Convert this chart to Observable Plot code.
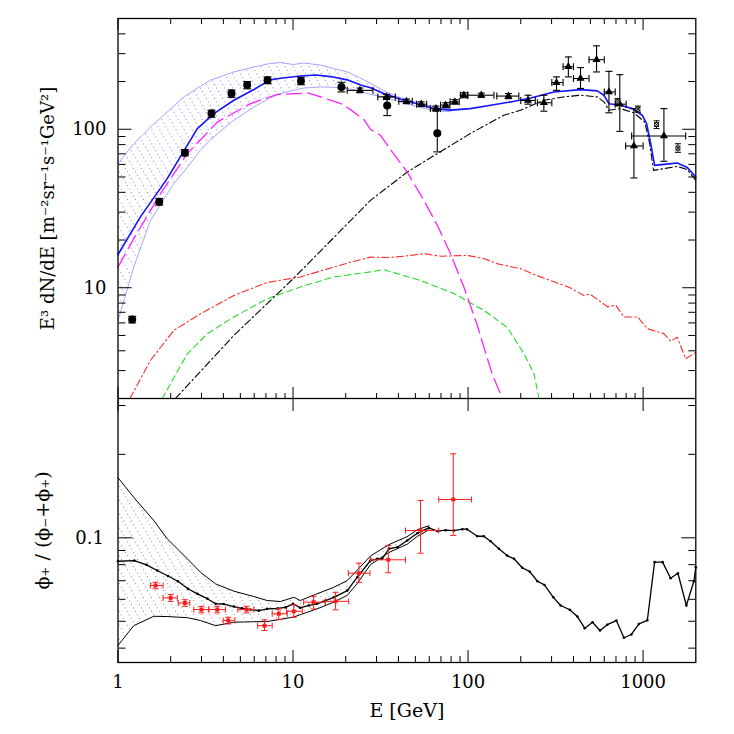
<!DOCTYPE html>
<html>
<head>
<meta charset="utf-8">
<script src="https://cdn.jsdelivr.net/npm/d3@7"></script>
<script src="https://cdn.jsdelivr.net/npm/@observablehq/plot@0.6"></script>
<style>
  body { margin: 0; background: #fff; }
  #c svg { display: block; }
</style>
</head>
<body>
<div id="c"></div>
<script>
// ---------- tick values ----------
const xMajor = [1, 10, 100, 1000];
const xMinor = [2,3,4,5,6,7,8,9,20,30,40,50,60,70,80,90,200,300,400,500,600,700,800,900];
const yTopMajor = [10, 100];
const yTopMinor = [3,4,5,6,7,8,9,20,30,40,50,60,70,80,90,200,300,400];
const yBotMajor = [0.1];
const yBotMinor = [0.04,0.05,0.06,0.07,0.08,0.09,0.2,0.3];

// ---------- top panel: model curves ----------
const totE = [1,1.34,1.91,2.84,3.53,4.59,5.97,7.4,8.5,11,13.5,16.4,20.4,24.3,27.7,33,41.7,53.5,63.7,79.4,103,134.5,175,228,309,439,547,597,638,743,867,989,1047,1105,1163,1400,1567,1789,2000];
const totV = [16.2,27.9,48.8,101,125.6,152.5,178,205,210,217,220,215,205,190,183,168,154,143,135,132,135,141.8,148.8,157.6,172,178,174.6,164,145,141.7,135,122.6,108.6,81,59.2,60.5,61.3,57.3,50];

const bandE  = [1,1.23,1.53,2.08,2.38,2.96,3.38,4.59,5.97,7.4,8.5,10,11.5,14.4,17,20.4,24,27.7,33,40,50,63,80];
const bandHi = [60.7,81,103,140,160,187,204,230,247,260,264,256,262,254,242,230,212,195,175,160,149,139,134];
const bandLo = [6.2,13.5,26.5,45.4,54,73.7,86,114,138,158,168,176,182,185,184,181,174,166,160,150,140,131,129];

const magE = [1,1.23,1.75,2.49,3.69,5.71,8.12,12.3,14.4,18.8,21.3,25.4,27.7,31.6,36.9,44.9,55.9,66.7,79.4,94.6,113,137,157];
const magV = [13.5,20.4,39.2,70.2,111,145,166,169,160,145,133,115,100,91.6,71.9,53.7,35.6,24.8,16.4,10.1,5.78,2.87,2.0];

const extE = [2.13,4.59,10.1,27.7,44.9,66.7,103,160,199.5,271,350,439,547,597,638,743,886,1022,1091,1147,1567,1789,2000];
const extV = [2.0,5.0,11.5,35.6,53.7,70.2,94,122.6,131.8,152.5,160,164,160,149,131.8,135,127,111,81,55,58.3,55.7,47.6];

const redE = [1.17,1.53,2.08,2.96,4.59,7.12,11,16,21.3,27.7,35,45,55.9,70,98.6,123,146,199.5,249,296,383,459,498,624,698,777,930,1057,1315,1436,1567,1750,2000];
const redV = [2.0,3.47,5.37,6.85,8.94,10.8,11.7,13.2,14.5,15.6,15.5,15.9,16.4,15.8,16.0,15.3,14.2,13.2,11.9,11.1,10.0,8.94,9.1,7.6,7.76,6.54,6.54,5.52,5.13,4.6,4.88,3.56,3.9];

const grnE = [1.79,2.49,3.24,4.59,7.12,11,17.1,27.7,33,53.5,83,123,167,209,238,254];
const grnV = [2.0,3.83,5.13,6.54,8.52,10.1,11.7,12.6,13.0,11.1,9.2,7.2,5.63,3.83,2.87,2.0];

// ---------- top panel: data points ----------
const circE  = [1.205,1.72,2.41,3.42,4.45,5.47,7.15,11.1,18.9,34.5,66.7];
const circV  = [6.3,34.9,71.2,125.6,168,190,204,202,185,141,94.4];
const circLo = [6.0,33.2,68,119,159,180,194,191,172,122,72];
const circHi = [6.6,36.6,74.5,132,177,200,214,213,198,160,133];

const triE   = [24.1,34.2,44.5,54,65.5,74.4,84.1,94.6,119,170,220,271,320,374,439,542,638,736,886,1315];
const triV   = [176,160,150,144,135,142,149,164,164,162,152,147,197,248,209,275,172,144,78.4,90.7];
const triXlo = [20.4,30.5,40.2,50.8,60.9,69.6,79,90.4,99.6,146,200,249,301,349,400,491,600,693,795,860];
const triXhi = [28.6,38.4,48,58,69.6,78.7,89,99.6,140.5,195,242,301,349,400,491,600,693,800,1000,1750];
const triYlo = [170,154,145,139,130,137,144,158,159,156,144,130,176,214,181,230,127,97,49.3,62.8];
const triYhi = [182,166,155,149,140,147,154,170,169,168,164,164,214,286,245,336,232,221,135,135];

const hessE  = [713,934,1194,1581];
const hessV  = [149,134,107,76];
const hessLo = [142,128,101,71.5];
const hessHi = [156,140,113,81];

// ---------- bottom panel ----------
const ratioE = [1,1.24,1.455,1.675,1.93,2.2,2.51,2.84,3.24,3.61,4.02,4.59,5.1,5.71,6.38,7.12,8.12,9.06,10,11,12.3,13.7,15.3,17.1,20.4,23.3,27.7,30.3,32.3,35.3,39.4,44.9,51.3,59.7,66.7,74.5,83,92.7,98.6,113,123,134.5,150,167,183,204,225,249,273,307,338,381,421,464,514,567,624,703,777,857,946,1057,1163,1292,1436,1581,1766,1950,2000];
const ratioV = [0.0823,0.0828,0.0799,0.0762,0.0728,0.0697,0.0655,0.0628,0.0603,0.0578,0.0577,0.0565,0.0557,0.0551,0.0546,0.0554,0.0556,0.0561,0.0578,0.0559,0.0570,0.0578,0.0593,0.0610,0.0645,0.0721,0.0828,0.0840,0.0840,0.0913,0.0925,0.0978,0.1039,0.1086,0.1057,0.1065,0.1062,0.1074,0.1074,0.1013,0.1013,0.0972,0.0913,0.0863,0.0840,0.0780,0.0755,0.0697,0.0676,0.0610,0.0570,0.0550,0.0520,0.0472,0.0496,0.0463,0.0486,0.0503,0.0436,0.0448,0.0489,0.0504,0.0817,0.0817,0.0715,0.0745,0.0570,0.0697,0.0783];

const rbE  = [1,1.23,1.6,1.91,2.49,2.96,3.61,4.59,5.97,7.12,8.47,10.1,11,13.7,17.1,20.4,23.3,27.7,35.3,44.9,51.3,59.7];
const rbHi = [0.1647,0.140,0.1155,0.0992,0.0840,0.0751,0.0682,0.0642,0.0614,0.0594,0.0589,0.0610,0.0594,0.0628,0.0663,0.0701,0.0765,0.0860,0.0945,0.1010,0.1070,0.1105];
const rbLo = [0.0409,0.0482,0.0521,0.0520,0.0515,0.0503,0.0482,0.0496,0.0498,0.0499,0.0508,0.0518,0.0528,0.0554,0.0586,0.0620,0.0685,0.0800,0.0885,0.0948,0.1012,0.1068];

const pfE   = [1.64,2.0,2.41,3.0,3.69,4.26,5.42,6.87,8.29,10.1,13.1,17.5,23.8,35,53.5,82.3];
const pfV   = [0.0673,0.0607,0.0582,0.0551,0.0551,0.0503,0.0551,0.0482,0.0532,0.0543,0.0586,0.0590,0.0745,0.0833,0.1062,0.1375];
const pfXlo = [1.53,1.81,2.21,2.71,3.30,3.99,4.84,6.28,7.6,9.19,11.5,15.3,20.7,27.7,43.9,68];
const pfXhi = [1.81,2.18,2.57,3.30,4.11,4.65,5.97,7.6,9.27,11.3,15.3,20.8,27.5,43.9,68,104.5];
const pfYlo = [0.0655,0.0590,0.0566,0.0536,0.0536,0.0489,0.0536,0.0463,0.0507,0.0517,0.0554,0.0550,0.0691,0.0748,0.0880,0.1020];
const pfYhi = [0.0691,0.0624,0.0598,0.0566,0.0566,0.0517,0.0566,0.0506,0.0554,0.0573,0.0615,0.0636,0.0810,0.0938,0.1364,0.2008];

// ---------- helpers ----------
const zip = (cols) => cols[Object.keys(cols)[0]].map((_, i) =>
  Object.fromEntries(Object.entries(cols).map(([k, a]) => [k, a[i]])));

const hcap = {draw(ctx, size) { const r = Math.sqrt(size / Math.PI); ctx.moveTo(-r, 0); ctx.lineTo(r, 0); }};
const vcap = {draw(ctx, size) { const r = Math.sqrt(size / Math.PI); ctx.moveTo(0, -r); ctx.lineTo(0, r); }};

function yErr(rows, color, cap, sw = 1) {
  return [
    Plot.ruleX(rows, {x: "E", y1: "lo", y2: "hi", stroke: color, strokeWidth: sw}),
    Plot.dot(rows, {x: "E", y: "lo", symbol: hcap, r: cap, stroke: color, fill: "none", strokeWidth: sw}),
    Plot.dot(rows, {x: "E", y: "hi", symbol: hcap, r: cap, stroke: color, fill: "none", strokeWidth: sw})
  ];
}
function xErr(rows, color, cap, sw = 1) {
  return [
    Plot.ruleY(rows, {y: "v", x1: "xlo", x2: "xhi", stroke: color, strokeWidth: sw}),
    Plot.dot(rows, {x: "xlo", y: "v", symbol: vcap, r: cap, stroke: color, fill: "none", strokeWidth: sw}),
    Plot.dot(rows, {x: "xhi", y: "v", symbol: vcap, r: cap, stroke: color, fill: "none", strokeWidth: sw})
  ];
}
function addHatch(svg, id, color) {
  const defs = d3.select(svg).insert("defs", ":first-child");
  const p = defs.append("pattern").attr("id", id).attr("patternUnits", "userSpaceOnUse")
    .attr("width", 7).attr("height", 8).attr("patternTransform", "rotate(-30)");
  p.append("line").attr("x1", 3.5).attr("x2", 3.5).attr("y1", 0).attr("y2", 8)
    .attr("stroke", color).attr("stroke-width", 1).attr("stroke-dasharray", "1 3");
}
const inTicksY = (major, minor, majLen, minLen) => [
  Plot.axisY(major, {anchor: "right", frameAnchor: "left", tickSize: majLen, fill: "none", label: null}),
  Plot.axisY(minor, {anchor: "right", frameAnchor: "left", tickSize: minLen, fill: "none", label: null}),
  Plot.axisY(major, {anchor: "left", frameAnchor: "right", tickSize: majLen, fill: "none", label: null}),
  Plot.axisY(minor, {anchor: "left", frameAnchor: "right", tickSize: minLen, fill: "none", label: null})
];

const FONT = "DejaVu Serif";
const common = {
  width: 734, marginLeft: 117.5, marginRight: 38.7,
  x: {type: "log", domain: [1, 2000]},
  style: {fontFamily: FONT, fontSize: "18px", background: "white", color: "black"}
};

// ---------- rows ----------
const totRows  = zip({E: totE, v: totV});
const bandRows = zip({E: bandE, hi: bandHi, lo: bandLo});
const magRows  = zip({E: magE, v: magV});
const extRows  = zip({E: extE, v: extV});
const redRows  = zip({E: redE, v: redV});
const grnRows  = zip({E: grnE, v: grnV});
const circRows = zip({E: circE, v: circV, lo: circLo, hi: circHi});
const triRows  = zip({E: triE, v: triV, xlo: triXlo, xhi: triXhi, lo: triYlo, hi: triYhi});
const hessRows = zip({E: hessE, v: hessV, lo: hessLo, hi: hessHi});
const ratioRows = zip({E: ratioE, v: ratioV});
const rbRows   = zip({E: rbE, hi: rbHi, lo: rbLo});
const pfRows   = zip({E: pfE, v: pfV, xlo: pfXlo, xhi: pfXhi, lo: pfYlo, hi: pfYhi});

// ---------- top plot ----------
const topPlot = Plot.plot({
  ...common,
  height: 398, marginTop: 18, marginBottom: 0,
  y: {type: "log", domain: [2, 500]},
  marks: [
    Plot.areaY(bandRows, {x: "E", y1: "lo", y2: "hi", fill: "url(#bluehatch)"}),
    Plot.line(bandRows, {x: "E", y: "hi", stroke: "#9a9aff", strokeWidth: 0.9}),
    Plot.line(bandRows, {x: "E", y: "lo", stroke: "#9a9aff", strokeWidth: 0.9}),
    Plot.line(grnRows, {x: "E", y: "v", stroke: "#22dd22", strokeWidth: 1.1, strokeDasharray: "6 4"}),
    Plot.line(redRows, {x: "E", y: "v", stroke: "#ff2a2a", strokeWidth: 1.1, strokeDasharray: "7 3 1.5 3"}),
    Plot.line(extRows, {x: "E", y: "v", stroke: "black", strokeWidth: 1.1, strokeDasharray: "7 3 1.5 3"}),
    Plot.line(magRows, {x: "E", y: "v", stroke: "#ff22ff", strokeWidth: 1.3, strokeDasharray: "15 6"}),
    Plot.line(totRows, {x: "E", y: "v", stroke: "#1414ff", strokeWidth: 1.6}),
    ...yErr(circRows, "black", 4, 1.1),
    Plot.dot(circRows, {x: "E", y: "v", r: 4, symbol: "circle", fill: "black", stroke: "none"}),
    ...yErr(triRows, "black", 3.5, 1.1),
    ...xErr(triRows, "black", 3.5, 1.1),
    Plot.dot(triRows, {x: "E", y: "v", r: 3, symbol: "triangle", fill: "black", stroke: "none"}),
    ...yErr(hessRows, "black", 3, 1),
    Plot.dot(hessRows, {x: "E", y: "v", r: 2.2, symbol: "square", fill: "white", stroke: "black", strokeWidth: 0.9}),
    Plot.dot(hessRows, {x: "E", y: "v", r: 2.2, symbol: "times", stroke: "black", strokeWidth: 0.9}),
    Plot.frame({stroke: "black", strokeWidth: 1.3}),
    ...inTicksY(yTopMajor, yTopMinor, 13, 7),
    Plot.axisX(xMajor, {anchor: "bottom", frameAnchor: "top", tickSize: 12, fill: "none", label: null}),
    Plot.axisX(xMinor, {anchor: "bottom", frameAnchor: "top", tickSize: 6, fill: "none", label: null}),
    Plot.axisX(xMajor, {anchor: "top", frameAnchor: "bottom", tickSize: 12, fill: "none", label: null}),
    Plot.axisX(xMinor, {anchor: "top", frameAnchor: "bottom", tickSize: 6, fill: "none", label: null}),
    Plot.axisY(yTopMajor, {anchor: "left", tickSize: 0, tickPadding: 11.5, tickFormat: (d) => String(d), fontSize: 18, label: null}),
    Plot.text(["E³ dN/dE [m⁻²sr⁻¹s⁻¹GeV²]"], {text: (d) => d, frameAnchor: "left", dx: -70, rotate: -90,
      textAnchor: "middle", lineAnchor: "middle", fontSize: 18, fill: "black"})
  ]
});
addHatch(topPlot, "bluehatch", "#8080ff");

// ---------- bottom plot ----------
const bottomPlot = Plot.plot({
  ...common,
  height: 336, marginTop: 0, marginBottom: 72,
  y: {type: "log", domain: [0.0355, 0.318]},
  marks: [
    Plot.areaY(rbRows, {x: "E", y1: "lo", y2: "hi", fill: "url(#grayhatch)"}),
    Plot.line(rbRows, {x: "E", y: "hi", stroke: "black", strokeWidth: 1}),
    Plot.line(rbRows, {x: "E", y: "lo", stroke: "black", strokeWidth: 1}),
    Plot.line(ratioRows, {x: "E", y: "v", stroke: "black", strokeWidth: 1.3}),
    Plot.dot(ratioRows, {x: "E", y: "v", r: 1.3, symbol: "circle", fill: "black", stroke: "none"}),
    ...yErr(pfRows, "#ff1a1a", 3, 1),
    ...xErr(pfRows, "#ff1a1a", 3, 1),
    Plot.dot(pfRows, {x: "E", y: "v", r: 2.2, symbol: "square", fill: "#ff1a1a", stroke: "none"}),
    Plot.frame({stroke: "black", strokeWidth: 1.3}),
    ...inTicksY(yBotMajor, yBotMinor, 14, 7),
    Plot.axisX(xMajor, {anchor: "bottom", frameAnchor: "top", tickSize: 13, fill: "none", label: null}),
    Plot.axisX(xMajor, {anchor: "top", frameAnchor: "bottom", tickSize: 13, fill: "none", label: null}),
    Plot.axisX(xMinor, {anchor: "top", frameAnchor: "bottom", tickSize: 7, fill: "none", label: null}),
    Plot.axisX(xMajor, {anchor: "bottom", tickSize: 0, tickPadding: 13, tickFormat: (d) => String(d), fontSize: 18, label: null}),
    Plot.axisY(yBotMajor, {anchor: "left", tickSize: 0, tickPadding: 14, tickFormat: (d) => String(d), fontSize: 18, label: null}),
    Plot.text(["ϕ₊ / (ϕ₋+ϕ₊)"], {text: (d) => d, frameAnchor: "left", dx: -75, rotate: -90,
      textAnchor: "middle", lineAnchor: "middle", fontSize: 19, fill: "black"}),
    Plot.text(["E [GeV]"], {text: (d) => d, frameAnchor: "bottom", dy: 48,
      textAnchor: "middle", lineAnchor: "middle", fontSize: 19, fill: "black"})
  ]
});
addHatch(bottomPlot, "grayhatch", "#8c8c8c");

document.getElementById("c").append(topPlot, bottomPlot);
</script>
</body>
</html>
